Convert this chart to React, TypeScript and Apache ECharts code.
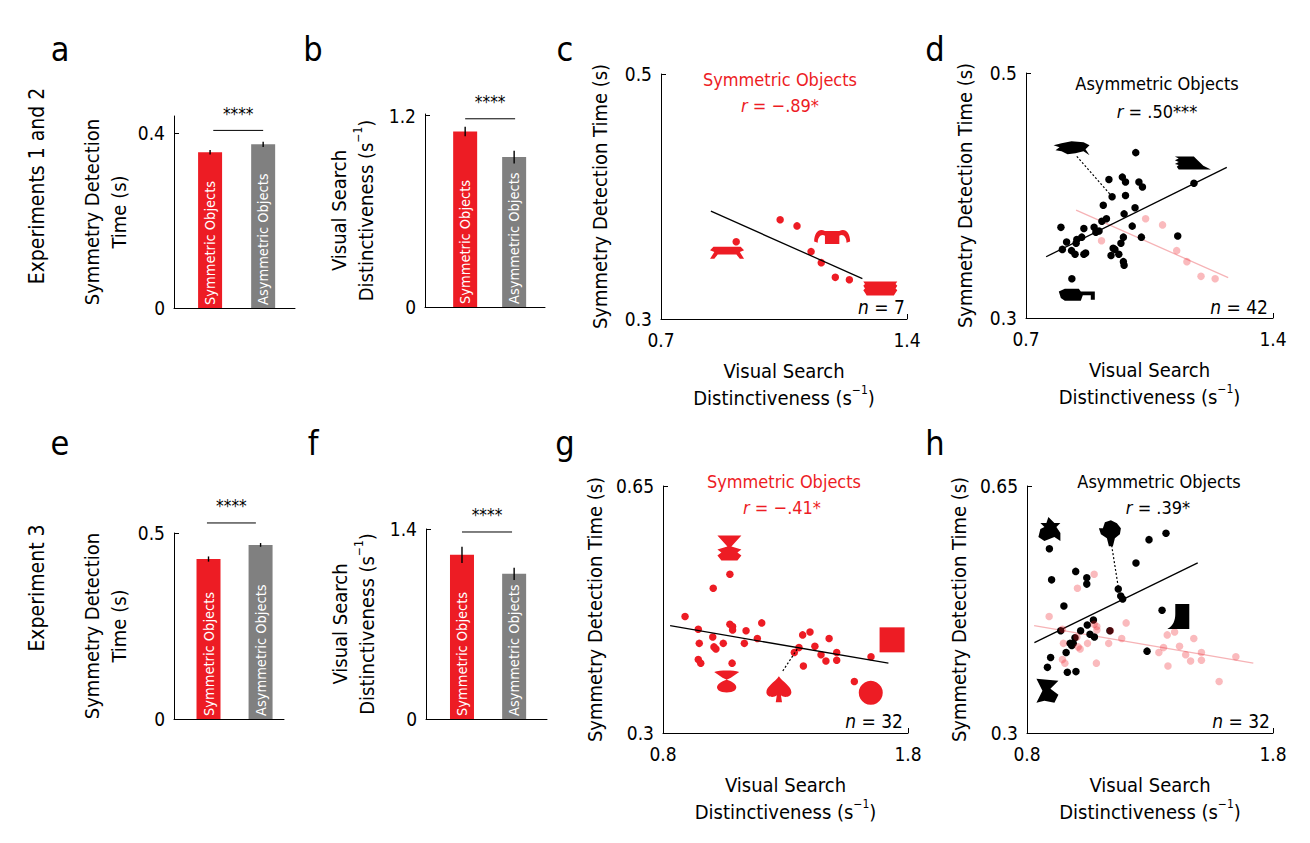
import React, { useEffect, useRef } from "react";
import * as echarts from "echarts";

// ---------------- DATA ----------------
const barCategories = ["Symmetric Objects", "Asymmetric Objects"];
const barPositions = [1, 2];

// Experiments 1 and 2
const exp12DetectionTime = [0.357, 0.375];
const exp12DetectionErr = [0.005, 0.006];
const exp12Distinctiveness = [1.1, 0.94];
const exp12DistinctivenessErr = [0.03, 0.04];
// Experiment 3
const exp3DetectionTime = [0.43, 0.468];
const exp3DetectionErr = [0.007, 0.005];
const exp3Distinctiveness = [1.21, 1.07];
const exp3DistinctivenessErr = [0.06, 0.045];

// significance brackets [x1, x2, y]
const sigA = [[1.06, 2.0, 0.407]];
const sigB = [[1.0, 2.02, 1.18]];
const sigE = [[0.97, 1.91, 0.527]];
const sigF = [[1.0, 1.96, 1.378]];
const sigLabel = "****";

// tick values
const ticksA = [0, 0.4];
const ticksB = [0, 1.2];
const ticksE = [0, 0.5];
const ticksF = [0, 1.4];
const ticksExp12X = [0.7, 1.4];
const ticksExp12Y = [0.3, 0.5];
const ticksExp3X = [0.8, 1.8];
const ticksExp3Y = [0.3, 0.65];

// scatter: [visual search distinctiveness (s^-1), symmetry detection time (s)]
const exp12SymPoints = [
  [0.914, 0.363], [1.039, 0.381], [1.087, 0.376], [1.127, 0.355],
  [1.156, 0.346], [1.196, 0.334], [1.236, 0.332],
];
const exp12SymFit = [[0.842, 0.388], [1.273, 0.333]];

const exp12AsymPoints = [
  [1.011, 0.435], [0.935, 0.413], [0.973, 0.415], [0.982, 0.411], [1.02, 0.411],
  [1.03, 0.407], [0.944, 0.399], [0.982, 0.4], [0.919, 0.392], [1.009, 0.39],
  [0.978, 0.385], [0.928, 0.381], [0.915, 0.379], [1.001, 0.375], [0.799, 0.374],
  [0.864, 0.373], [0.893, 0.374], [0.898, 0.37], [0.907, 0.371], [0.858, 0.366],
  [0.844, 0.364], [0.815, 0.362], [0.842, 0.361], [0.803, 0.356], [0.829, 0.355],
  [0.839, 0.352], [0.864, 0.352], [0.869, 0.353], [0.947, 0.357], [0.952, 0.356],
  [0.941, 0.351], [0.963, 0.352], [0.969, 0.361], [0.976, 0.366], [0.976, 0.346],
  [0.978, 0.343], [1.027, 0.366], [1.13, 0.367], [1.176, 0.41], [0.83, 0.332],
];
const exp12AsymFit = [[0.757, 0.35], [1.269, 0.423]];

const exp3SymPoints = [
  [0.89, 0.465], [1.005, 0.505], [1.073, 0.525], [0.944, 0.447], [1.073, 0.454],
  [1.084, 0.451], [1.084, 0.446], [1.139, 0.445], [1.203, 0.456], [1.003, 0.436],
  [0.948, 0.427], [1.008, 0.422], [1.016, 0.419], [1.046, 0.427], [1.132, 0.427],
  [1.185, 0.434], [0.944, 0.404], [0.954, 0.399], [1.082, 0.399], [1.37, 0.439],
  [1.4, 0.443], [1.478, 0.434], [1.42, 0.423], [1.355, 0.421], [1.336, 0.414],
  [1.445, 0.411], [1.509, 0.414], [1.509, 0.403], [1.465, 0.402], [1.373, 0.395],
  [1.649, 0.408], [1.581, 0.373],
];
const exp3SymFit = [[0.829, 0.452], [1.72, 0.399]];

const exp3AsymPoints = [
  [0.891, 0.561], [0.9, 0.517], [0.998, 0.529], [1.043, 0.52], [1.043, 0.511],
  [0.95, 0.48], [1.171, 0.504], [1.181, 0.494], [1.189, 0.49], [1.243, 0.541],
  [1.296, 0.574], [1.365, 0.583], [1.349, 0.474], [0.937, 0.445], [1.07, 0.46],
  [1.045, 0.453], [1.074, 0.436], [1.056, 0.44], [1.018, 0.445], [1.137, 0.445],
  [0.995, 0.435], [0.988, 0.427], [0.975, 0.427], [0.982, 0.424], [0.959, 0.414],
  [0.896, 0.407], [0.883, 0.393], [0.964, 0.386], [0.999, 0.387], [1.288, 0.416],
];
const exp3AsymFit = [[0.83, 0.428], [1.494, 0.541]];

// example object images [x, y, shape]
const exp12SymIcons = [[0.888, 0.354, "table"], [1.187, 0.367, "scroll"], [1.324, 0.325, "stack"]];
const exp12AsymIcons = [[0.829, 0.4385, "bird"], [1.173, 0.4265, "flag"], [0.844, 0.319, "drill"]];
const exp12AsymLink = [[0.844, 0.432], [0.944, 0.399]];
const exp3SymIcons = [
  [1.071, 0.562, "hourglass"], [1.06, 0.373, "bowl"], [1.273, 0.362, "spade"],
  [1.648, 0.357, "circle"], [1.735, 0.432, "square"],
];
const exp3SymLink = [[1.289, 0.388], [1.348, 0.419]];
const exp3AsymIcons = [
  [0.891, 0.589, "cat"], [1.137, 0.583, "blob"], [1.415, 0.465, "boot"], [0.883, 0.36, "bow"],
];
const exp3AsymLink = [[1.144, 0.566], [1.171, 0.507]];

// ---------------- STYLE ----------------
const RED = "#ED1C24";
const GREY = "#808080";
const PINK = "rgba(237,28,36,0.3)";
const PINK_LINE = "#F6B3B6";
const FONT = '"Liberation Sans Narrow", "Nimbus Sans Narrow", "DejaVu Sans Condensed", "Liberation Sans", sans-serif';

const ICON_PATHS: Record<string, string> = {
  table: "path://M4,0 L36,0 L40,4 L35,6 L40,14 L35,14 L31,9 L9,9 L5,14 L0,14 L5,6 L0,4 Z",
  scroll: "path://M12,3 L28,3 L28,14 L12,14 Z M0,12 C0,4 6,0 12,3 L12,7 C8,5 4,8 4,13 Z M40,12 C40,4 34,0 28,3 L28,7 C32,5 36,8 36,13 Z",
  stack: "path://M0,0 L40,0 L38,3 L40,5 L38,8 L40,10 L38,13 L36,16 L4,16 L2,13 L0,10 L2,8 L0,5 L2,3 Z",
  bird: "path://M0,4 L8,2 L18,0 L30,1 L36,4 L32,8 L36,14 L30,10 L22,12 L14,13 L8,10 L2,9 L6,6 Z",
  flag: "path://M0,0 L20,0 L24,4 L30,10 L38,14 L4,14 L2,11 L4,9 L0,8 L4,6 L0,4 L4,2 Z",
  drill: "path://M0,3 L6,0 L20,0 L22,3 L36,3 L36,12 L32,12 L32,7 L24,7 L22,13 L6,13 L2,10 Z",
  hourglass: "path://M0,0 L24,0 L14,11 L24,14 L20,17 L24,20 L20,25 L4,25 L0,20 L4,17 L0,14 L10,11 Z",
  bowl: "path://M0,2 C6,0 18,0 24,2 L16,8 L12,10 L8,8 Z M12,10 C18,12 24,16 20,21 C16,24 8,24 4,21 C0,16 6,12 12,10 Z",
  spade: "path://M12,0 C16,6 24,10 24,16 C24,21 17,22 14,19 L15,26 L9,26 L10,19 C7,22 0,21 0,16 C0,10 8,6 12,0 Z",
  circle: "circle",
  square: "rect",
  cat: "path://M10,0 L16,6 L22,6 L18,10 L22,16 L22,24 L16,20 L6,24 L0,20 L2,12 L6,10 L2,6 L8,6 Z",
  blob: "path://M6,2 L12,0 L18,3 L22,8 L21,14 L16,18 L14,26 L10,26 L8,18 L2,14 L0,8 L4,8 Z",
  boot: "path://M8,0 L22,0 L22,25 L0,25 C6,22 8,16 8,10 Z",
  bow: "path://M0,0 L22,2 L14,10 L22,16 L18,24 L8,22 L0,24 L6,12 Z",
};
const ICON_SIZES: Record<string, number[]> = {
  table: [34, 12], scroll: [36, 14], stack: [34, 14],
  bird: [36, 14], flag: [36, 13], drill: [36, 12],
  hourglass: [24, 25], bowl: [25, 22], spade: [25, 26], circle: [24, 24], square: [25, 25],
  cat: [22, 24], blob: [22, 26], boot: [22, 25], bow: [22, 24],
};

const GRIDS = [
  { left: 174, top: 116, width: 121, height: 192 }, // a
  { left: 425, top: 114, width: 120, height: 193 }, // b
  { left: 661, top: 74, width: 246, height: 245 }, // c
  { left: 1026, top: 73, width: 247, height: 245 }, // d
  { left: 174, top: 533, width: 110, height: 186 }, // e
  { left: 426, top: 529, width: 121, height: 190 }, // f
  { left: 663, top: 486, width: 245, height: 247 }, // g
  { left: 1027, top: 486, width: 246, height: 247 }, // h
];

const axisLineStyle = { show: true, onZero: false, lineStyle: { color: "#000", width: 1 } };
const labelFont = { fontFamily: FONT, fontSize: 19, color: "#000" };
const nameFont = {
  fontFamily: FONT, fontSize: 20, color: "#000", lineHeight: 27,
  rich: { sup: { fontFamily: FONT, fontSize: 12, color: "#000", verticalAlign: "top", padding: [0, 0, 9, 0] } },
};
const fmt = (v: number) => String(v);

const DETECT_BAR = "Symmetry Detection\nTime (s)";
const DIST_BAR = "Visual Search\nDistinctiveness (s{sup|−1})";
const DETECT_SC = "Symmetry Detection Time (s)";

function barXAxis(i: number, min: number, max: number) {
  return {
    type: "value", gridIndex: i, min, max,
    axisLine: axisLineStyle, axisTick: { show: false }, axisLabel: { show: false }, splitLine: { show: false },
  };
}
function valYAxis(i: number, min: number, max: number, ticks: number[], name: string, gap: number) {
  return {
    type: "value", gridIndex: i, min, max,
    name, nameLocation: "middle", nameRotate: 90, nameGap: gap, nameTextStyle: nameFont,
    axisLine: axisLineStyle,
    axisTick: { show: true, inside: true, length: 5, customValues: ticks, lineStyle: { color: "#000" } },
    axisLabel: { ...labelFont, margin: 9, customValues: ticks, formatter: fmt },
    splitLine: { show: false },
  };
}
function scXAxis(i: number, ticks: number[]) {
  return {
    type: "value", gridIndex: i, min: ticks[0], max: ticks[1],
    name: DIST_BAR, nameLocation: "middle", nameGap: 38, nameTextStyle: nameFont,
    axisLine: axisLineStyle,
    axisTick: { show: true, inside: true, length: 5, customValues: ticks, lineStyle: { color: "#000" } },
    axisLabel: { ...labelFont, margin: 11, customValues: ticks, formatter: fmt },
    splitLine: { show: false },
  };
}

function barSeries(i: number, values: number[]) {
  return {
    type: "bar", xAxisIndex: i, yAxisIndex: i, barWidth: 24,
    data: values.map((v, k) => ({ value: [barPositions[k], v], itemStyle: { color: k === 0 ? RED : GREY } })),
    label: {
      show: true, position: "insideBottom", rotate: 90, align: "left", verticalAlign: "middle", distance: 3,
      formatter: (p: any) => barCategories[p.dataIndex], color: "#fff", fontFamily: FONT, fontSize: 14.5,
    },
    z: 2,
  };
}
function errSeries(i: number, values: number[], errs: number[]) {
  return {
    type: "custom", xAxisIndex: i, yAxisIndex: i, z: 5,
    data: values.map((v, k) => [barPositions[k], v, errs[k]]),
    encode: { x: 0, y: 1 },
    renderItem: (_p: any, api: any) => {
      const x = api.value(0), v = api.value(1), e = api.value(2);
      const p1 = api.coord([x, v - e]);
      const p2 = api.coord([x, v + e]);
      return { type: "line", shape: { x1: p1[0], y1: p1[1], x2: p2[0], y2: p2[1] }, style: { stroke: "#000", lineWidth: 1.4 } };
    },
  };
}
function sigSeries(i: number, data: number[][]) {
  return {
    type: "custom", xAxisIndex: i, yAxisIndex: i, z: 5, clip: false,
    data, encode: { x: [0, 1], y: 2 },
    renderItem: (_p: any, api: any) => {
      const y = api.value(2);
      const p1 = api.coord([api.value(0), y]);
      const p2 = api.coord([api.value(1), y]);
      return {
        type: "group",
        children: [
          { type: "line", shape: { x1: p1[0], y1: p1[1], x2: p2[0], y2: p2[1] }, style: { stroke: "#000", lineWidth: 1 } },
          {
            type: "text", x: (p1[0] + p2[0]) / 2, y: p1[1] - 8,
            style: { text: sigLabel, fontFamily: FONT, fontSize: 17, fill: "#000", align: "center", verticalAlign: "bottom" },
          },
        ],
      };
    },
  };
}
function pointSeries(i: number, data: number[][], color: string, z = 3) {
  return {
    type: "scatter", xAxisIndex: i, yAxisIndex: i, data, symbolSize: 7.5, z,
    itemStyle: { color, opacity: 1 }, silent: true,
  };
}
function fitSeries(i: number, data: number[][], color: string, z = 4) {
  return {
    type: "line", xAxisIndex: i, yAxisIndex: i, data, symbol: "none", z,
    lineStyle: { color, width: 1.3 }, silent: true,
  };
}
function linkSeries(i: number, data: number[][]) {
  return {
    type: "line", xAxisIndex: i, yAxisIndex: i, data, symbol: "none", z: 4,
    lineStyle: { color: "#000", width: 1.2, type: [2, 2] }, silent: true,
  };
}
function iconSeries(i: number, icons: any[], color: string) {
  return {
    type: "scatter", xAxisIndex: i, yAxisIndex: i, z: 6, silent: true,
    data: icons.map((ic) => ({
      value: [ic[0], ic[1]], symbol: ICON_PATHS[ic[2]], symbolSize: ICON_SIZES[ic[2]], symbolKeepAspect: false,
    })),
    itemStyle: { color, opacity: 1 },
  };
}

function text(x: number, y: number, t: string, size: number, color = "#000", align = "center", extra: any = {}) {
  return {
    type: "text", x, y, ...extra,
    style: {
      text: t, fontFamily: FONT, fontSize: size, fill: color, align, verticalAlign: "middle",
      rich: { i: { fontFamily: FONT, fontSize: size, fill: color, fontStyle: "italic" } },
    },
  };
}

function buildOption() {
  const xAxis = [
    barXAxis(0, 0.32, 2.6),
    barXAxis(1, 0.18, 2.63),
    scXAxis(2, ticksExp12X),
    scXAxis(3, ticksExp12X),
    barXAxis(4, 0.337, 2.45),
    barXAxis(5, 0.31, 2.63),
    scXAxis(6, ticksExp3X),
    scXAxis(7, ticksExp3X),
  ];
  const yAxis = [
    valYAxis(0, 0, 0.44, ticksA, DETECT_BAR, 42),
    valYAxis(1, 0, 1.21, ticksB, DIST_BAR, 46),
    valYAxis(2, ticksExp12Y[0], ticksExp12Y[1], ticksExp12Y, DETECT_SC, 48),
    valYAxis(3, ticksExp12Y[0], ticksExp12Y[1], ticksExp12Y, DETECT_SC, 48),
    valYAxis(4, 0, 0.5, ticksE, DETECT_BAR, 42),
    valYAxis(5, 0, 1.4, ticksF, DIST_BAR, 46),
    valYAxis(6, ticksExp3Y[0], ticksExp3Y[1], ticksExp3Y, DETECT_SC, 55),
    valYAxis(7, ticksExp3Y[0], ticksExp3Y[1], ticksExp3Y, DETECT_SC, 55),
  ];
  const series: any[] = [
    barSeries(0, exp12DetectionTime), errSeries(0, exp12DetectionTime, exp12DetectionErr), sigSeries(0, sigA),
    barSeries(1, exp12Distinctiveness), errSeries(1, exp12Distinctiveness, exp12DistinctivenessErr), sigSeries(1, sigB),
    barSeries(4, exp3DetectionTime), errSeries(4, exp3DetectionTime, exp3DetectionErr), sigSeries(4, sigE),
    barSeries(5, exp3Distinctiveness), errSeries(5, exp3Distinctiveness, exp3DistinctivenessErr), sigSeries(5, sigF),
    // c
    pointSeries(2, exp12SymPoints, RED), fitSeries(2, exp12SymFit, "#000"), iconSeries(2, exp12SymIcons, RED),
    // d
    pointSeries(3, exp12AsymPoints, "#000"), pointSeries(3, exp12SymPoints, PINK, 4),
    fitSeries(3, exp12SymFit, PINK_LINE, 2), fitSeries(3, exp12AsymFit, "#000"),
    linkSeries(3, exp12AsymLink), iconSeries(3, exp12AsymIcons, "#000"),
    // g
    pointSeries(6, exp3SymPoints, RED), fitSeries(6, exp3SymFit, "#000"), linkSeries(6, exp3SymLink),
    iconSeries(6, exp3SymIcons, RED),
    // h
    pointSeries(7, exp3AsymPoints, "#000"), pointSeries(7, exp3SymPoints, PINK, 4),
    fitSeries(7, exp3SymFit, PINK_LINE, 2), fitSeries(7, exp3AsymFit, "#000"),
    linkSeries(7, exp3AsymLink), iconSeries(7, exp3AsymIcons, "#000"),
  ];

  const graphic: any[] = [
    // panel letters
    text(60, 49, "a", 34), text(313, 49, "b", 34), text(565, 49, "c", 34), text(935, 49, "d", 34),
    text(60, 443, "e", 34), text(313, 443, "f", 34), text(565, 443, "g", 34), text(935, 443, "h", 34),
    // experiment labels
    text(37, 186, "Experiments 1 and 2", 21, "#000", "center", { rotation: Math.PI / 2 }),
    text(37, 588, "Experiment 3", 21, "#000", "center", { rotation: Math.PI / 2 }),
    // c
    text(780, 79, "Symmetric Objects", 18, RED), text(780, 105, "{i|r} = −.89*", 18, RED),
    text(905, 307, "{i|n} = 7", 19, "#000", "right"),
    // d
    text(1157, 83, "Asymmetric Objects", 18), text(1157, 111, "{i|r} = .50***", 18),
    text(1268, 307, "{i|n} = 42", 19, "#000", "right"),
    // g
    text(784, 481, "Symmetric Objects", 18, RED), text(782, 507, "{i|r} = −.41*", 18, RED),
    text(903, 721, "{i|n} = 32", 19, "#000", "right"),
    // h
    text(1159, 481, "Asymmetric Objects", 18), text(1158, 507, "{i|r} = .39*", 18),
    text(1270, 721, "{i|n} = 32", 19, "#000", "right"),
  ];

  return {
    animation: false,
    backgroundColor: "#fff",
    textStyle: { fontFamily: FONT },
    grid: GRIDS.map((g) => ({ ...g, containLabel: false })),
    xAxis, yAxis, series, graphic,
  };
}

export default function App() {
  const ref = useRef<HTMLDivElement>(null);
  useEffect(() => {
    if (!ref.current) return;
    const chart = echarts.init(ref.current, undefined, { renderer: "svg" });
    chart.setOption(buildOption() as any);
    return () => chart.dispose();
  }, []);
  return (
    <div
      ref={ref}
      style={{ position: "fixed", left: 0, top: 0, width: 1310, height: 843, background: "#fff" }}
    />
  );
}
